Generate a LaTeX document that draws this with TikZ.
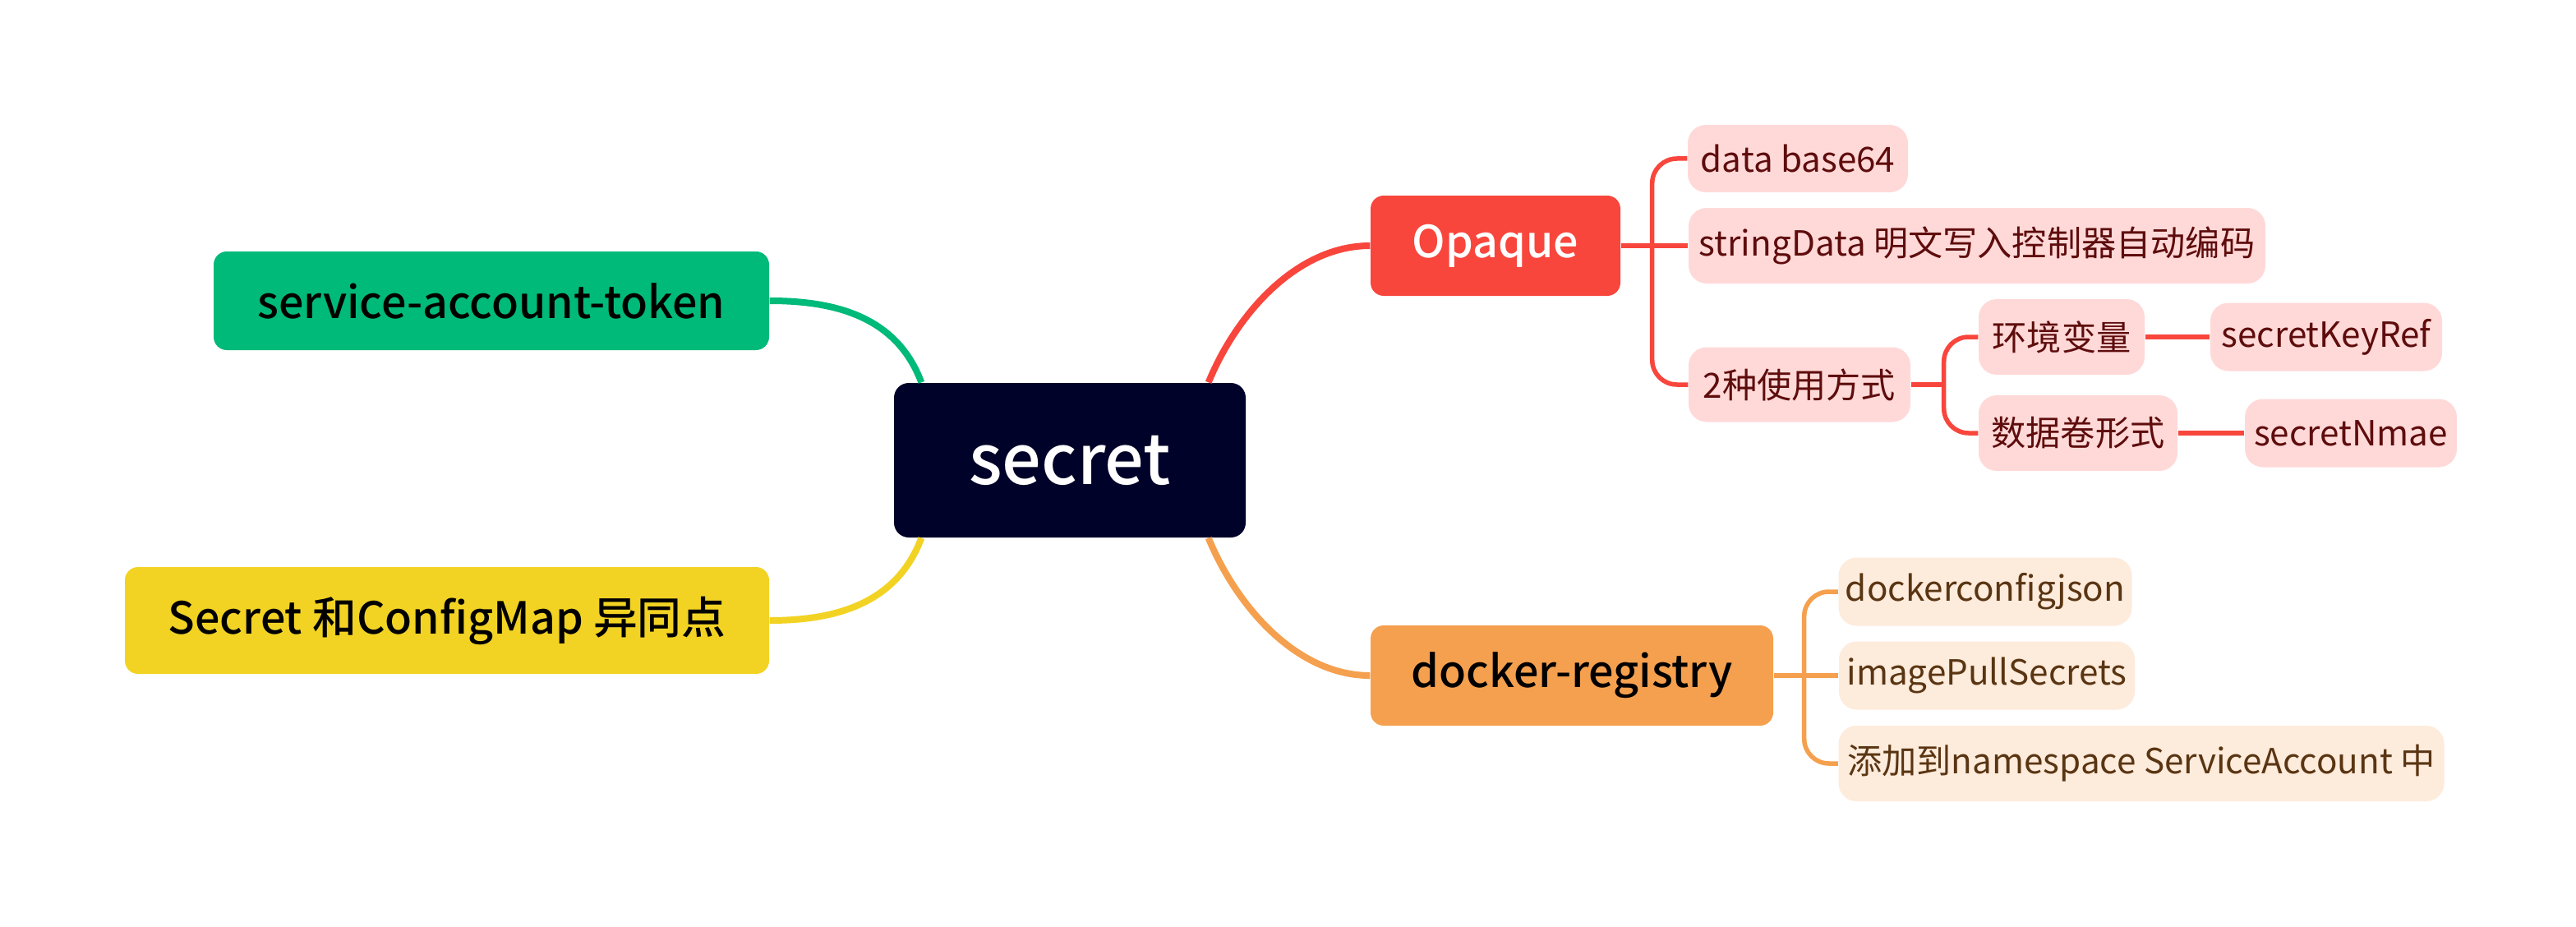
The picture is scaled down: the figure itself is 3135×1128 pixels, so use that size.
\documentclass[tikz,border=0pt]{standalone}
\usepackage{fontspec}
\setmainfont{Noto Sans CJK SC}
\newfontfamily\medfont{Noto Sans CJK SC Medium}

\definecolor{rootnavy}{HTML}{000229}
\definecolor{opqred}{HTML}{F8463D}
\definecolor{opqpink}{HTML}{FFD9D8}
\definecolor{opqtext}{HTML}{5E0C0C}
\definecolor{dkorange}{HTML}{F5A04E}
\definecolor{dkpeach}{HTML}{FDEBDC}
\definecolor{dktext}{HTML}{5A3512}
\definecolor{satgreen}{HTML}{00BA79}
\definecolor{diffyellow}{HTML}{F2D323}

\begin{document}
\begin{tikzpicture}[x=0.1mm, y=-0.1mm,
    topic/.style={align=center, inner sep=0pt},
    root/.style={topic, fill=rootnavy, text=white, rounded corners=1.8mm,
        font=\medfont\fontsize{24}{28}\selectfont},
    main/.style={topic, rounded corners=1.6mm, minimum height=12.2mm,
        font=\medfont\fontsize{15.3}{18}\selectfont},
    sub/.style={topic, rounded corners=2.2mm, minimum height=8.3mm,
        font=\fontsize{12}{14}\selectfont},
    opqsub/.style={sub, fill=opqpink, text=opqtext},
    dksub/.style={sub, fill=dkpeach, text=dktext},
    branch/.style={line width=0.8mm},
    twig/.style={line width=0.55mm, rounded corners=3mm}
    ]
    \useasboundingbox (0,0) rectangle (3135,1128);

    % centre
    \node [root, minimum width=42.8mm, minimum height=18.8mm] (root) at (1302,560) {secret};

    % left side
    \node [main, fill=satgreen, minimum width=67.6mm, minimum height=12mm] (sat) at (598,366) {service-account-token};
    \node [main, fill=diffyellow, minimum width=78.4mm, minimum height=13mm] (diff) at (544,755) {Secret 和ConfigMap 异同点};

    % right side
    \node [main, fill=opqred, text=white, minimum width=30.4mm] (opaque) at (1820,299) {Opaque};
    \node [main, fill=dkorange, minimum width=49mm] (docker) at (1913,822) {docker-registry};

    % Opaque
    \node [opqsub, minimum width=26.8mm, minimum height=8.2mm] (data) at (2188,193) {data base64};
    \node [opqsub, minimum width=70.2mm, minimum height=9.2mm] (strdata) at (2406,299) {stringData 明文写入控制器自动编码};
    \node [opqsub, minimum width=27mm, minimum height=9.1mm] (usage) at (2190,468) {2种使用方式};
    \node [opqsub, minimum width=20.2mm, minimum height=9.2mm] (env) at (2509,410) {环境变量};
    \node [opqsub, minimum width=28.2mm] (keyref) at (2831,410) {secretKeyRef};
    \node [opqsub, minimum width=24.2mm, minimum height=9.2mm] (vol) at (2529,527) {数据卷形式};
    \node [opqsub, minimum width=25.8mm] (nmae) at (2861,527) {secretNmae};

    % docker-registry
    \node [dksub, minimum width=35.7mm] (dcj) at (2416,720) {dockerconfigjson};
    \node [dksub, minimum width=36mm] (ips) at (2418,822) {imagePullSecrets};
    \node [dksub, minimum width=73.7mm, minimum height=9.2mm] (ns) at (2606,929) {添加到namespace ServiceAccount 中};

    % branches from the centre
    \draw [branch, satgreen] (sat.east) .. controls +(80,0) and +(-30,-80) .. ([xshift=3.4mm]root.north west);
    \draw [branch, diffyellow] (diff.east) .. controls +(80,0) and +(-30,80) .. ([xshift=3.4mm]root.south west);
    \draw [branch, opqred] ([xshift=-4.6mm]root.north east) .. controls +(35,-85) and +(-88,0) .. (opaque.west);
    \draw [branch, dkorange] ([xshift=-4.6mm]root.south east) .. controls +(35,85) and +(-88,0) .. (docker.west);

    % Opaque twigs
    \coordinate (opq-j) at ([xshift=3.8mm]opaque.east);
    \draw [twig, opqred] (opaque.east) -- (opq-j);
    \draw [twig, opqred] (opq-j) |- (data.west);
    \draw [twig, opqred] (opq-j) -- (strdata.west);
    \draw [twig, opqred] (opq-j) |- (usage.west);
    \coordinate (use-j) at ([xshift=4mm]usage.east);
    \draw [twig, opqred] (usage.east) -- (use-j);
    \draw [twig, opqred] (use-j) |- (env.west);
    \draw [twig, opqred] (use-j) |- (vol.west);
    \draw [twig, opqred] (env.east) -- (keyref.west);
    \draw [twig, opqred] (vol.east) -- (nmae.west);

    % docker-registry twigs
    \coordinate (dk-j) at ([xshift=3.7mm]docker.east);
    \draw [twig, dkorange] (docker.east) -- (dk-j);
    \draw [twig, dkorange] (dk-j) |- (dcj.west);
    \draw [twig, dkorange] (dk-j) -- (ips.west);
    \draw [twig, dkorange] (dk-j) |- (ns.west);
\end{tikzpicture}
\end{document}
